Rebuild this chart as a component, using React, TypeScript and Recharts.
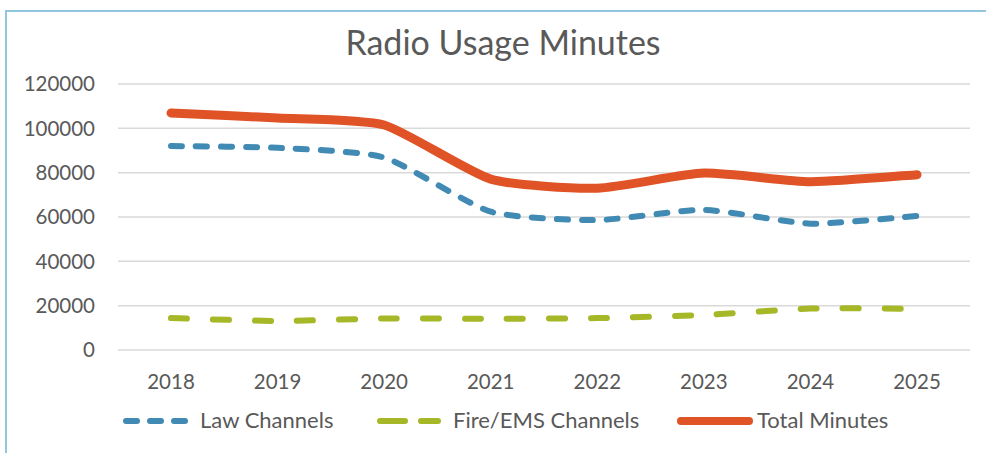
import React from 'react';
import { LineChart, Line, XAxis, YAxis, CartesianGrid } from 'recharts';

const years = ['2018', '2019', '2020', '2021', '2022', '2023', '2024', '2025'];
const lawChannels = [92000, 91200, 86800, 62400, 58600, 63200, 57000, 60500];
const fireEmsChannels = [14400, 13100, 14200, 14100, 14400, 15800, 18700, 18600];
const totalMinutes = [106900, 104700, 101500, 77100, 73000, 79800, 75900, 79100];
const yTicks = [0, 20000, 40000, 60000, 80000, 100000, 120000];

const data = years.map((y, i) => ({
  year: y,
  law: lawChannels[i],
  fire: fireEmsChannels[i],
  total: totalMinutes[i],
}));

const FONT = 'Lato, "Open Sans", sans-serif';
const TEXT = '#595959';
const BLUE = '#418AB3';
const GREEN = '#A6B727';
const ORANGE = '#DF5327';

// Gentle spline smoothing (similar to spreadsheet "smoothed line")
function smoothCurve(context: any) {
  let pts: [number, number][] = [];
  return {
    areaStart() {},
    areaEnd() {},
    lineStart() { pts = []; },
    lineEnd() {
      const n = pts.length;
      if (n === 0) return;
      context.moveTo(pts[0][0], pts[0][1]);
      if (n === 1) return;
      const k = 0.1;
      for (let i = 0; i < n - 1; i++) {
        const p0 = pts[Math.max(0, i - 1)];
        const p1 = pts[i];
        const p2 = pts[i + 1];
        const p3 = pts[Math.min(n - 1, i + 2)];
        const c1x = p1[0] + (p2[0] - p0[0]) * k;
        const c1y = p1[1] + (p2[1] - p0[1]) * k;
        const c2x = p2[0] - (p3[0] - p1[0]) * k;
        const c2y = p2[1] - (p3[1] - p1[1]) * k;
        context.bezierCurveTo(c1x, c1y, c2x, c2y, p2[0], p2[1]);
      }
    },
    point(x: number, y: number) { pts.push([+x, +y]); },
  };
}

export default function App() {
  return (
    <div style={{ position: 'absolute', left: 0, top: 0, width: 986, height: 453, background: '#fff', overflow: 'hidden' }}>
      <div
        style={{
          position: 'absolute',
          left: 5,
          top: 10,
          width: 1100,
          height: 600,
          border: '2px solid #92C5DE',
          boxSizing: 'border-box',
        }}
      />
      <div style={{ position: 'absolute', left: 0, top: 0 }}>
        <LineChart width={986} height={453} data={data} margin={{ top: 84, right: 16, bottom: 73, left: 0 }}>
          <CartesianGrid vertical={false} stroke="#D9D9D9" strokeWidth={1.5} />
          <XAxis
            dataKey="year"
            axisLine={false}
            tickLine={false}
            tickSize={0}
            tickMargin={24}
            height={30}
            padding={{ left: 53, right: 53 }}
            tick={{ fill: TEXT, fontSize: 20.5, fontFamily: FONT }}
          />
          <YAxis
            domain={[0, 120000]}
            ticks={yTicks}
            axisLine={false}
            tickLine={false}
            tickSize={0}
            tickMargin={23}
            width={118}
            tick={{ fill: TEXT, fontSize: 20.5, fontFamily: FONT }}
          />
          <Line
            type={smoothCurve as any}
            dataKey="law"
            stroke={BLUE}
            strokeWidth={6}
            strokeDasharray="11 14"
            strokeLinecap="round"
            dot={false}
            isAnimationActive={false}
          />
          <Line
            type={smoothCurve as any}
            dataKey="fire"
            stroke={GREEN}
            strokeWidth={6}
            strokeDasharray="16 26"
            strokeLinecap="round"
            dot={false}
            isAnimationActive={false}
          />
          <Line
            type={smoothCurve as any}
            dataKey="total"
            stroke={ORANGE}
            strokeWidth={9}
            strokeLinecap="round"
            strokeLinejoin="round"
            dot={false}
            isAnimationActive={false}
          />
        </LineChart>
      </div>
      <svg width={986} height={453} style={{ position: 'absolute', left: 0, top: 0, pointerEvents: 'none' }}>
        <text x={503} y={55} textAnchor="middle" fill={TEXT} fontSize={34} fontFamily={FONT}>
          Radio Usage Minutes
        </text>
        <line x1={126} y1={421} x2={185} y2={421} stroke={BLUE} strokeWidth={6} strokeDasharray="11 13" strokeLinecap="round" />
        <text x={200} y={428} fill={TEXT} fontSize={22} fontFamily={FONT}>Law Channels</text>
        <line x1={380} y1={421} x2={438} y2={421} stroke={GREEN} strokeWidth={6} strokeDasharray="25 16" strokeLinecap="round" />
        <text x={453} y={428} fill={TEXT} fontSize={22} fontFamily={FONT}>Fire/EMS Channels</text>
        <line x1={681} y1={421} x2={749} y2={421} stroke={ORANGE} strokeWidth={8} strokeLinecap="round" />
        <text x={757} y={428} fill={TEXT} fontSize={22} fontFamily={FONT}>Total Minutes</text>
      </svg>
    </div>
  );
}
